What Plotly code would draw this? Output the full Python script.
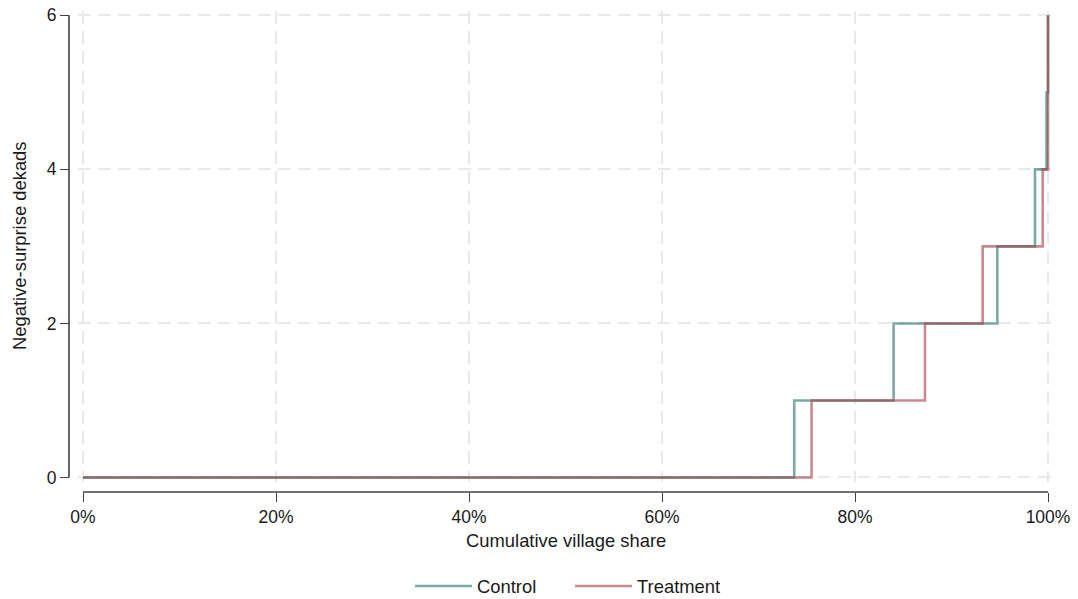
import plotly.graph_objects as go

# Data: step points (cumulative village share, number of negative-surprise dekads)
control_share = [0.0, 0.737, 0.840, 0.9475, 0.9865, 0.9985, 1.0]
control_dekads = [0, 1, 2, 3, 4, 5, 6]
treatment_share = [0.0, 0.755, 0.8725, 0.9323, 0.9945, 1.0]
treatment_dekads = [0, 1, 2, 3, 4, 6]

x_ticks = [0, 0.2, 0.4, 0.6, 0.8, 1.0]
y_ticks = [0, 2, 4, 6]

OFF = 0  # body margin removed by post_script
W, H = 1078 - OFF, 599 - OFF
FONT = "Liberation Sans, Arial, sans-serif"
FS = 17.5
FS_T = 18.4


def px(v):
    return (v - OFF) / W


def py(v):
    return 1 - (v - OFF) / H


# screen-pixel layout of the reference
x0_px, x1_px = 83.0, 1048.0      # 0% and 100%
y0_px, y6_px = 477.5, 15.3       # 0 and 6
xpad, ypad = 0.005, 0.06
xppu = (x1_px - x0_px) / 1.0
yppu = (y0_px - y6_px) / 6.0
xdom = [px(x0_px - xpad * xppu), px(x1_px + xpad * xppu)]
ydom = [py(y0_px + ypad * yppu), py(y6_px - ypad * yppu)]
xaxis_y = py(492.0)
yaxis_x = px(69.0)

fig = go.Figure()
fig.add_trace(go.Scatter(
    x=control_share, y=control_dekads, mode="lines", name="Control",
    line=dict(color="rgba(33,113,102,0.6)", width=2.6, shape="hv"),
    hoverinfo="skip"))
fig.add_trace(go.Scatter(
    x=treatment_share, y=treatment_dekads, mode="lines", name="Treatment",
    line=dict(color="rgba(162,60,70,0.6)", width=2.6, shape="hv"),
    hoverinfo="skip"))

axis_col = "#404040"
grid = dict(showgrid=True, gridcolor="#e9e9e9", gridwidth=1.6, griddash="13px,7px",
            zeroline=False, showline=False, ticks="outside", ticklen=9,
            tickwidth=1.4, tickcolor=axis_col, automargin=False,
            ticklabeloverflow="allow",
            tickfont=dict(family=FONT, size=FS, color="#1a1a1a"))

fig.update_layout(
    width=W, height=H,
    margin=dict(l=0, r=0, t=0, b=0, autoexpand=False),
    paper_bgcolor="white", plot_bgcolor="white",
    font=dict(family=FONT, size=FS, color="#1a1a1a"),
    xaxis=dict(domain=xdom, range=[-xpad, 1 + xpad], anchor="free", position=xaxis_y,
               tickvals=x_ticks, tickformat=".0%", **grid),
    yaxis=dict(domain=ydom, range=[-ypad, 6 + ypad], anchor="free", position=yaxis_x,
               tickvals=y_ticks, **grid),
    legend=dict(orientation="h", x=px(570.0), xanchor="center",
                y=py(586.0), yanchor="middle", entrywidth=88, itemwidth=57,
                font=dict(family=FONT, size=FS_T, color="#1a1a1a")),
    shapes=[
        dict(type="line", xref="x", yref="paper", x0=0, x1=1, y0=xaxis_y, y1=xaxis_y,
             line=dict(color=axis_col, width=1.6)),
        dict(type="line", xref="paper", yref="y", x0=yaxis_x, x1=yaxis_x, y0=0, y1=6,
             line=dict(color=axis_col, width=1.6)),
    ],
    annotations=[
        dict(text="Cumulative village share", xref="paper", yref="paper",
             x=px(566.0), y=py(540.0), xanchor="center", yanchor="middle",
             showarrow=False, font=dict(family=FONT, size=FS_T, color="#1a1a1a")),
        dict(text="Negative-surprise dekads", xref="paper", yref="paper",
             x=px(19.0), y=py(246.0), xanchor="center", yanchor="middle",
             textangle=-90, showarrow=False,
             font=dict(family=FONT, size=FS_T, color="#1a1a1a")),
    ],
)

fig.write_html("out.html",
               config={"displayModeBar": False},
               post_script="document.body.style.margin='0';document.body.style.overflow='hidden';")
